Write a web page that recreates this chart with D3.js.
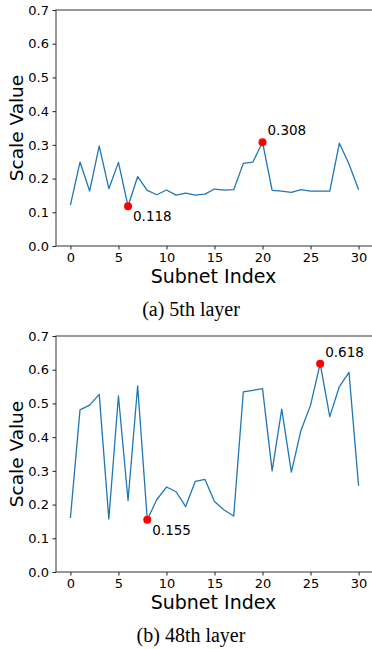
<!DOCTYPE html>
<html>
<head>
<meta charset="utf-8">
<script src="https://cdn.jsdelivr.net/npm/d3@7"></script>
<style>
html,body{margin:0;padding:0;background:#fff;}
svg{display:block;}
</style>
</head>
<body>
<svg id="chart" width="372" height="649"></svg>
<script>
const subnetIndex = d3.range(0, 31);
const layer5Values = [0.121,0.249,0.163,0.297,0.170,0.248,0.118,0.206,0.165,0.152,0.166,0.151,0.157,0.151,0.154,0.169,0.166,0.167,0.245,0.249,0.308,0.165,0.163,0.159,0.167,0.163,0.163,0.163,0.305,0.243,0.167];
const layer48Values = [0.160,0.481,0.495,0.527,0.157,0.522,0.212,0.552,0.155,0.215,0.252,0.238,0.194,0.269,0.275,0.209,0.184,0.166,0.534,0.539,0.544,0.300,0.483,0.296,0.420,0.495,0.618,0.461,0.550,0.592,0.256];
const xTicks = [0,5,10,15,20,25,30];
const yTicks = [0.0,0.1,0.2,0.3,0.4,0.5,0.6,0.7];
const captions = ["(a) 5th layer", "(b) 48th layer"];
const xLabel = "Subnet Index";
const yLabel = "Scale Value";

const svg = d3.select("#chart");
const sans = "'DejaVu Sans', sans-serif";

function panel(values, top, caption) {
  const left = 56, right = 373, bottom = top + 236;
  const x = d3.scaleLinear().domain([-1.5, 31.5]).range([left, right]);
  const y = d3.scaleLinear().domain([0, 0.7]).range([bottom, top]);
  const g = svg.append("g");

  g.append("path")
    .datum(values)
    .attr("fill", "none")
    .attr("stroke", "#1f77b4")
    .attr("stroke-width", 1.3)
    .attr("stroke-linejoin", "round")
    .attr("d", d3.line().x((d, i) => x(subnetIndex[i])).y(d => y(d)));

  g.append("rect").attr("x", left).attr("y", top).attr("width", right - left).attr("height", bottom - top)
    .attr("fill", "none").attr("stroke", "#333").attr("stroke-width", 1);

  const xa = g.append("g").attr("transform", `translate(0,${bottom})`)
    .call(d3.axisBottom(x).tickValues(xTicks).tickSize(3.5).tickPadding(3.5).tickFormat(d3.format("d")));
  const ya = g.append("g").attr("transform", `translate(${left},0)`)
    .call(d3.axisLeft(y).tickValues(yTicks).tickSize(3.5).tickPadding(3.5).tickFormat(d3.format(".1f")));
  [xa, ya].forEach(a => {
    a.select(".domain").remove();
    a.selectAll("line").attr("stroke", "#222").attr("stroke-width", 1);
    a.selectAll("text").attr("font-family", sans).attr("font-size", 13).attr("fill", "#000");
  });

  const maxI = d3.maxIndex(values), minI = d3.minIndex(values);
  [[minI, 15], [maxI, -7]].forEach(([i, dy]) => {
    g.append("circle").attr("cx", x(subnetIndex[i])).attr("cy", y(values[i])).attr("r", 4).attr("fill", "red");
    g.append("text").attr("x", x(subnetIndex[i]) + 5).attr("y", y(values[i]) + dy)
      .attr("font-family", sans).attr("font-size", 13.5).text(values[i].toFixed(3));
  });

  g.append("text").attr("x", (left + right) / 2 - 1).attr("y", bottom + 37).attr("text-anchor", "middle")
    .attr("font-family", sans).attr("font-size", 19).text(xLabel);
  g.append("text").attr("transform", `translate(23,${(top + bottom) / 2}) rotate(-90)`).attr("text-anchor", "middle")
    .attr("font-family", sans).attr("font-size", 18.5).text(yLabel);
  g.append("text").attr("x", 191).attr("y", bottom + 70).attr("text-anchor", "middle")
    .attr("font-family", "'Liberation Serif', 'Times New Roman', serif").attr("font-size", 20).text(caption);
}

panel(layer5Values, 10, captions[0]);
panel(layer48Values, 336, captions[1]);
</script>
</body>
</html>
